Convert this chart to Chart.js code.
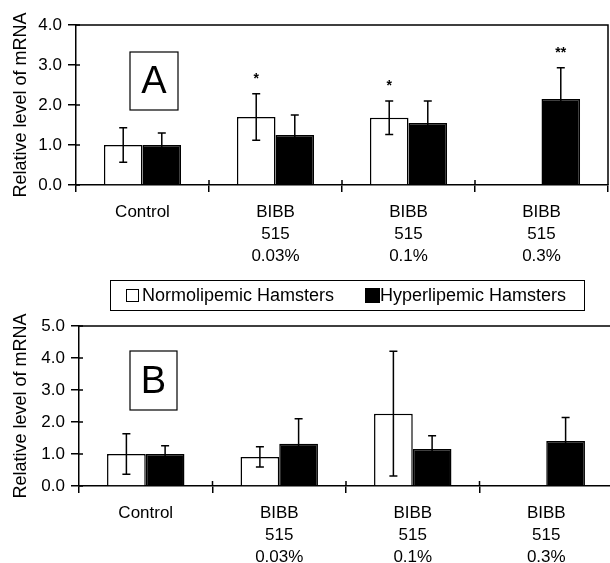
<!DOCTYPE html>
<html>
<head>
<meta charset="utf-8">
<script src="https://cdn.jsdelivr.net/npm/chart.js@4.4.1/dist/chart.umd.min.js"></script>
<style>
    body {
        margin: 0;
        width: 610px;
        height: 563px;
        overflow: hidden;
        position: relative;
        background: #ffffff;
        font-family: 'Liberation Sans', Arial, sans-serif;
    }

    #graficoA { position: absolute; left: 0; top: 0; }
    #graficoB { position: absolute; left: 0; top: 300px; }

    .legenda {
        position: absolute;
        left: 110px;
        top: 280px;
        width: 475px;
        height: 31px;
        border: 1px solid #000;
        box-sizing: border-box;
        display: flex;
        align-items: center;
        padding-left: 15px;
        font-size: 18px;
        color: #000;
        white-space: nowrap;
    }

    .legenda .quadrado {
        display: inline-block;
        box-sizing: border-box;
        width: 13px;
        height: 13px;
        border: 1px solid #000;
        margin-right: 3px;
    }

    .legenda .preto { background: #000; width: 15px; height: 15px; margin-left: 31px; margin-right: 0; }
</style>
</head>
<body>
<canvas id="graficoA" width="610" height="265"></canvas>
<canvas id="graficoB" width="614" height="263"></canvas>
<div class="legenda">
    <span class="quadrado"></span>Normolipemic Hamsters
    <span class="quadrado preto"></span>Hyperlipemic Hamsters
</div>

<script>
/* Dados */
const categorias = [['Control'], ['BIBB', '515', '0.03%'], ['BIBB', '515', '0.1%'], ['BIBB', '515', '0.3%']];
const series = ['Normolipemic Hamsters', 'Hyperlipemic Hamsters'];

// Painel A
const normoA = [1.0, 1.7, 1.68, null];
const erroNormoA = [0.43, 0.58, 0.42, null];
const hiperA = [1.0, 1.25, 1.55, 2.15];
const erroHiperA = [0.3, 0.5, 0.55, 0.78];
const marcasNormoA = ['', '*', '*', ''];
const marcasHiperA = ['', '', '', '**'];
const ticksA = [0, 1, 2, 3, 4];

// Painel B
const normoB = [1.0, 0.91, 2.26, null];
const erroNormoB = [0.63, 0.32, 1.95, null];
const hiperB = [1.0, 1.32, 1.16, 1.41];
const erroHiperB = [0.26, 0.78, 0.41, 0.73];
const marcasNormoB = ['', '', '', ''];
const marcasHiperB = ['', '', '', ''];
const ticksB = [0, 1, 2, 3, 4, 5];

Chart.defaults.font.family = "'Liberation Sans', Arial, sans-serif";
Chart.defaults.font.size = 17;
Chart.defaults.color = '#000000';

/* Moldura, barras de erro, asteriscos e letra do painel */
const painelPlugin = {
    id: 'painel',
    afterDatasetsDraw(chart, args, opts) {
        const ctx = chart.ctx;
        const area = chart.chartArea;
        const escalaX = chart.scales.x;
        const escalaY = chart.scales.y;

        ctx.save();
        ctx.strokeStyle = '#000';
        ctx.fillStyle = '#000';
        ctx.lineWidth = 1.5;

        // moldura superior e direita
        ctx.beginPath();
        ctx.moveTo(area.left, area.top);
        ctx.lineTo(area.right, area.top);
        ctx.lineTo(area.right, area.bottom);
        ctx.stroke();

        // parte interior das marcas dos eixos
        ctx.beginPath();
        escalaY.ticks.forEach(function (t, k) {
            const py = escalaY.getPixelForTick(k);
            ctx.moveTo(area.left, py);
            ctx.lineTo(area.left + 4, py);
        });
        const meia = (escalaX.getPixelForValue(1) - escalaX.getPixelForValue(0)) / 2;
        for (let k = 1; k < categorias.length; k++) {
            const px = escalaX.getPixelForValue(k) - meia;
            ctx.moveTo(px, area.bottom);
            ctx.lineTo(px, area.bottom - 5);
        }
        ctx.stroke();

        // barras de erro e asteriscos
        ctx.font = 'bold 14px ' + Chart.defaults.font.family;
        ctx.textAlign = 'center';
        ctx.textBaseline = 'middle';
        opts.erros.forEach(function (erros, i) {
            const valores = chart.data.datasets[i].data;
            chart.getDatasetMeta(i).data.forEach(function (barra, j) {
                if (valores[j] === null || erros[j] === null) return;
                const yTopo = escalaY.getPixelForValue(valores[j] + erros[j]);
                const yBase = escalaY.getPixelForValue(valores[j] - erros[j]);
                ctx.beginPath();
                ctx.moveTo(barra.x, yTopo);
                ctx.lineTo(barra.x, yBase);
                ctx.moveTo(barra.x - 4, yTopo);
                ctx.lineTo(barra.x + 4, yTopo);
                ctx.moveTo(barra.x - 4, yBase);
                ctx.lineTo(barra.x + 4, yBase);
                ctx.stroke();

                const marca = opts.marcas[i][j];
                if (marca) ctx.fillText(marca, barra.x, yTopo - 15);
            });
        });

        // letra do painel
        const c = opts.caixa;
        ctx.lineWidth = 1.2;
        ctx.strokeRect(area.left + c.dx, area.top + c.dy, c.w, c.h);
        ctx.font = '38px ' + Chart.defaults.font.family;
        ctx.fillText(opts.letra, area.left + c.dx + c.w / 2, area.top + c.dy + c.h / 2 + 2);
        ctx.restore();
    }
};

function criarPainel(id, normo, hiper, erroNormo, erroHiper, marcasNormo, marcasHiper, ticks, opcoes) {
    const canvas = document.getElementById(id);

    new Chart(canvas, {
        type: 'bar',
        data: {
            labels: categorias,
            datasets: [{
                label: series[0],
                data: normo,
                backgroundColor: '#ffffff',
                borderColor: '#000000',
                borderWidth: 1.5,
                borderSkipped: 'bottom'
            }, {
                label: series[1],
                data: hiper,
                backgroundColor: '#000000',
                borderColor: '#000000',
                borderWidth: 1.5
            }]
        },
        options: {
            responsive: false,
            animation: false,
            devicePixelRatio: 1,
            categoryPercentage: 0.58,
            barPercentage: 1,
            layout: {
                padding: { top: opcoes.topo, right: opcoes.direita, left: 0, bottom: 0 }
            },
            plugins: {
                legend: { display: false },
                tooltip: { enabled: false },
                painel: {
                    erros: [erroNormo, erroHiper],
                    marcas: [marcasNormo, marcasHiper],
                    letra: opcoes.letra,
                    caixa: opcoes.caixa
                }
            },
            scales: {
                x: {
                    grid: {
                        display: true,
                        drawOnChartArea: false,
                        drawTicks: true,
                        tickLength: 7,
                        color: '#000',
                        lineWidth: 1.5
                    },
                    border: { display: true, color: '#000', width: 1.5 },
                    ticks: {
                        padding: 9,
                        maxRotation: 0,
                        font: { size: 17, lineHeight: 1.3 }
                    },
                    afterFit: function (escala) { escala.height = opcoes.alturaX; }
                },
                y: {
                    min: ticks[0],
                    max: ticks[ticks.length - 1],
                    afterBuildTicks: function (escala) {
                        escala.ticks = ticks.map(function (v) { return { value: v }; });
                    },
                    grid: {
                        display: true,
                        drawOnChartArea: false,
                        drawTicks: true,
                        tickLength: 8,
                        color: '#000',
                        lineWidth: 1.5
                    },
                    border: { display: true, color: '#000', width: 1.5 },
                    ticks: {
                        padding: 6,
                        font: { size: 17 },
                        callback: function (v) { return Number(v).toFixed(1); }
                    },
                    title: {
                        display: true,
                        text: 'Relative level of mRNA',
                        font: { size: 18 },
                        padding: { top: 10, bottom: 0 }
                    },
                    afterFit: function (escala) { escala.width = opcoes.larguraY; }
                }
            }
        },
        plugins: [painelPlugin]
    });
}

document.addEventListener('DOMContentLoaded', function () {
    criarPainel('graficoA', normoA, hiperA, erroNormoA, erroHiperA, marcasNormoA, marcasHiperA, ticksA, {
        topo: 25, direita: 2, alturaX: 80, larguraY: 76, letra: 'A',
        caixa: { dx: 54, dy: 27, w: 48, h: 58 }
    });
    criarPainel('graficoB', normoB, hiperB, erroNormoB, erroHiperB, marcasNormoB, marcasHiperB, ticksB, {
        topo: 26, direita: 1, alturaX: 77, larguraY: 79, letra: 'B',
        caixa: { dx: 51, dy: 25, w: 47, h: 59 }
    });
});
</script>
</body>
</html>
